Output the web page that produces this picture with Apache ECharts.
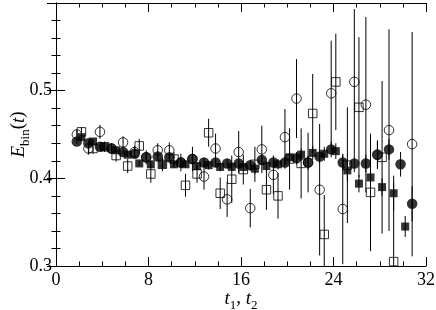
<!DOCTYPE html>
<html>
<head>
<meta charset="utf-8">
<script src="https://cdn.jsdelivr.net/npm/echarts@6.0.0/dist/echarts.min.js"></script>
<style>
html,body{margin:0;padding:0;background:#fff}
#main{width:436px;height:310px}
</style>
</head>
<body>
<div id="main"></div>
<script>
// tick labels
var xTicks = ['0', '8', '16', '24', '32'];
var yTicks = ['0.3', '0.4', '0.5'];

// filled circles
var tFilledCirc = [2,3,4,5,6,7,8,9,10,11,12,13,14,15,16,17,18,19,20,21,22,23,24,25,26,27,28,29,30,31];
var filledCirc = [0.442,0.440,0.436,0.434,0.430,0.428,0.424,0.425,0.424,0.418,0.422,0.418,0.418,0.417,0.417,0.415,0.421,0.418,0.418,0.423,0.418,0.425,0.433,0.418,0.417,0.417,0.427,0.433,0.416,0.371];
var filledCircErr = [0.003,0.003,0.003,0.003,0.003,0.003,0.004,0.004,0.004,0.004,0.005,0.005,0.005,0.005,0.006,0.006,0.006,0.006,0.007,0.007,0.008,0.008,0.009,0.009,0.010,0.010,0.016,0.012,0.014,0.020];

// filled squares
var tFilledSq = [2,3,4,5,6,7,8,9,10,11,12,13,14,15,16,17,18,19,20,21,22,23,24,25,26,27,28,29,30];
var filledSq = [0.447,0.442,0.436,0.432,0.427,0.417,0.416,0.416,0.416,0.416,0.414,0.415,0.413,0.413,0.413,0.411,0.414,0.416,0.424,0.427,0.429,0.428,0.431,0.409,0.394,0.401,0.390,0.383,0.345];
var filledSqErr = [0.003,0.003,0.003,0.003,0.003,0.003,0.004,0.004,0.004,0.004,0.004,0.005,0.005,0.005,0.005,0.006,0.006,0.006,0.007,0.007,0.008,0.008,0.009,0.012,0.010,0.012,0.010,0.020,0.012];

// open circles
var tOpenCirc = [2,3,4,5,6,7,8,9,10,11,12,13,14,15,16,17,18,19,20,21,22,23,24,25,26,27,28,29,31];
var openCirc = [0.450,0.434,0.453,0.434,0.441,0.430,0.424,0.432,0.432,0.418,0.422,0.402,0.434,0.376,0.430,0.366,0.433,0.404,0.447,0.491,0.418,0.387,0.497,0.365,0.510,0.484,0.427,0.455,0.439];
var openCircErr = [0.006,0.007,0.008,0.006,0.007,0.007,0.008,0.008,0.009,0.010,0.014,0.015,0.017,0.020,0.024,0.022,0.027,0.022,0.032,0.045,0.034,0.075,0.060,0.063,0.083,0.100,0.016,0.115,0.128];

// open squares
var tOpenSq = [2,3,4,5,6,7,8,9,10,11,12,13,14,15,16,17,18,19,20,21,22,23,24,25,26,27,28,29];
var openSq = [0.453,0.434,0.436,0.426,0.414,0.437,0.405,0.416,0.422,0.392,0.405,0.452,0.383,0.399,0.410,0.416,0.387,0.380,0.422,0.417,0.474,0.336,0.510,0.415,0.481,0.384,0.424,0.305];
var openSqErr = [0.005,0.006,0.006,0.007,0.008,0.008,0.010,0.008,0.008,0.013,0.010,0.016,0.018,0.027,0.017,0.020,0.023,0.026,0.035,0.040,0.045,0.045,0.055,0.066,0.080,0.067,0.087,0.090];

var circShift = -0.2, sqShift = 0.2;
var font = 'Liberation Serif';

function pts(ts, vs, shift) {
  return ts.map(function (t, i) { return [t + shift, vs[i]]; });
}
function errPts(ts, vs, es, shift) {
  return ts.map(function (t, i) { return [t + shift, vs[i], es[i]]; });
}
function errRender(params, api) {
  var x = api.value(0), v = api.value(1), e = api.value(2);
  var a = api.coord([x, v - e]), b = api.coord([x, v + e]);
  return {
    type: 'line',
    shape: {x1: a[0], y1: a[1], x2: b[0], y2: b[1]},
    style: {stroke: '#000', lineWidth: 1}
  };
}
function errSeries(data) {
  return {type: 'custom', renderItem: errRender, data: data, clip: true, encode: {x: 0, y: 1}, z: 1, silent: true};
}

var tickStyle = {color: '#000', width: 1};
var richName = {
  i: {fontFamily: font, fontSize: 19, fontStyle: 'italic', lineHeight: 20, verticalAlign: 'top', color: '#000'},
  n: {fontFamily: font, fontSize: 19, lineHeight: 20, verticalAlign: 'top', color: '#000'},
  s: {fontFamily: font, fontSize: 13, lineHeight: 13, padding: [10, 0, 0, 0], verticalAlign: 'top', color: '#000'}
};

function xAxisDef(pos, labels) {
  return {
    type: 'value', min: 0, max: 32, interval: 8, position: pos,
    axisLine: {show: true, lineStyle: tickStyle},
    axisTick: {show: true, inside: true, length: 9, lineStyle: tickStyle},
    minorTick: {show: true, splitNumber: 4, length: 4.5, lineStyle: tickStyle},
    splitLine: {show: false},
    axisLabel: {
      show: labels, margin: 5, color: '#000', fontFamily: font, fontSize: 18,
      formatter: function (v) { return xTicks[Math.round(v / 8)]; }
    }
  };
}
function yAxisDef(pos, labels) {
  return {
    type: 'value', min: 0.3, max: 0.6, interval: 0.1, position: pos,
    axisLine: {show: true, lineStyle: tickStyle},
    axisTick: {show: true, inside: true, length: 9, lineStyle: tickStyle},
    minorTick: {show: true, splitNumber: 5, length: 4.5, lineStyle: tickStyle},
    splitLine: {show: false},
    axisLabel: {
      show: labels, margin: 4, color: '#000', fontFamily: font, fontSize: 18,
      formatter: function (v) { var k = Math.round((v - 0.3) * 10); return yTicks[k] || ''; }
    }
  };
}

var xa = xAxisDef('bottom', true);
xa.name = '{i|t}{s|1}{n|, }{i|t}{s|2}';
xa.nameLocation = 'middle';
xa.nameGap = 23;
xa.nameMoveOverlap = false;
xa.nameTextStyle = {rich: richName};

var ya = yAxisDef('left', true);
ya.name = '{i|E}{s|bin}{n|(}{i|t}{n|)}';
ya.nameLocation = 'middle';
ya.nameGap = 27;
ya.nameRotate = 90;
ya.nameMoveOverlap = false;
ya.nameTextStyle = {rich: richName};

var chart = echarts.init(document.getElementById('main'), null, {renderer: 'canvas'});
chart.setOption({
  animation: false,
  backgroundColor: '#fff',
  grid: {left: 56, right: 10, top: 3, bottom: 44, containLabel: false, outerBoundsMode: 'none'},
  xAxis: [xa, xAxisDef('top', false)],
  yAxis: [ya, yAxisDef('right', false)],
  series: [
    errSeries(errPts(tOpenSq, openSq, openSqErr, sqShift)),
    errSeries(errPts(tOpenCirc, openCirc, openCircErr, circShift)),
    errSeries(errPts(tFilledSq, filledSq, filledSqErr, sqShift)),
    errSeries(errPts(tFilledCirc, filledCirc, filledCircErr, circShift)),
    {type: 'scatter', data: pts(tOpenSq, openSq, sqShift), symbol: 'rect', symbolSize: 8.5, z: 2,
     itemStyle: {color: 'none', borderColor: '#000', borderWidth: 1}},
    {type: 'scatter', data: pts(tOpenCirc, openCirc, circShift), symbol: 'circle', symbolSize: 9.5, z: 2,
     itemStyle: {color: 'none', borderColor: '#000', borderWidth: 1}},
    {type: 'scatter', data: pts(tFilledSq, filledSq, sqShift), symbol: 'rect', symbolSize: 8, z: 3,
     itemStyle: {color: '#000'}},
    {type: 'scatter', data: pts(tFilledCirc, filledCirc, circShift), symbol: 'circle', symbolSize: 10.5, z: 4,
     itemStyle: {color: '#000'}}
  ]
});
</script>
</body>
</html>
